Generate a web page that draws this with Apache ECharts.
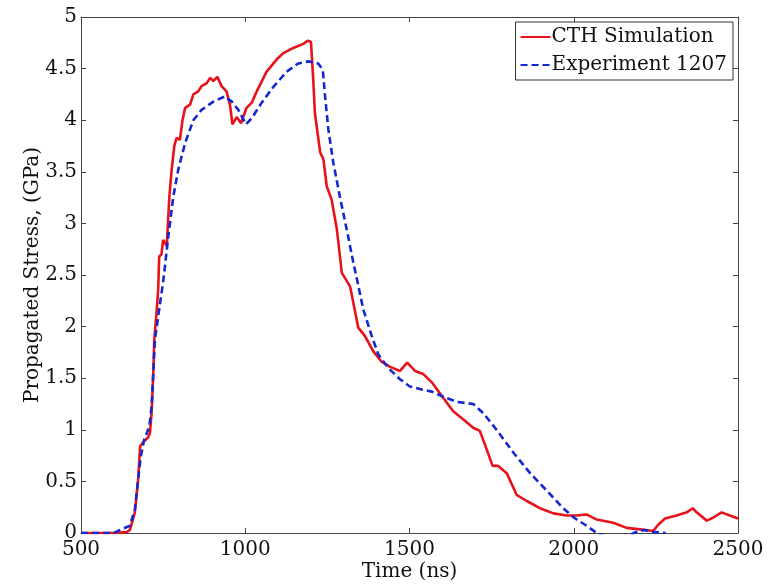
<!DOCTYPE html>
<html><head><meta charset="utf-8">
<script src="https://cdn.jsdelivr.net/npm/echarts@6/dist/echarts.min.js"></script>
<style>html,body{margin:0;padding:0;background:#fff}#c{width:772px;height:584px}</style>
</head><body><div id="c"></div>
<script>
const xTicks = [500, 1000, 1500, 2000, 2500];
const yTicks = [0, 0.5, 1, 1.5, 2, 2.5, 3, 3.5, 4, 4.5, 5];
const seriesNames = ['CTH Simulation', 'Experiment 1207'];

const cthTime = [500,600,640,649,664,674,680,690,705,710,715,720,723,730,735,738,745,750,761,769,776,784,791,801,809,817,832,842,857,867,883,893,903,915,928,943,954,961,974,987,1004,1020,1035,1065,1096,1116,1146,1177,1190,1200,1207,1212,1228,1238,1248,1263,1279,1294,1319,1329,1344,1364,1390,1415,1441,1471,1493,1517,1542,1568,1598,1633,1664,1694,1714,1735,1753,1770,1796,1826,1857,1897,1938,1978,2009,2039,2070,2120,2161,2202,2242,2257,2278,2313,2344,2362,2374,2405,2425,2450,2475,2500];
const cthStress = [0,0,0.01,0.03,0.2,0.52,0.84,0.88,0.93,0.97,1.17,1.55,1.87,2.14,2.36,2.68,2.70,2.84,2.78,3.26,3.52,3.75,3.83,3.81,4.0,4.12,4.15,4.25,4.28,4.33,4.36,4.41,4.38,4.42,4.33,4.28,4.14,3.96,4.03,3.97,4.12,4.17,4.28,4.47,4.59,4.65,4.70,4.74,4.77,4.76,4.39,4.07,3.69,3.62,3.36,3.23,2.94,2.52,2.39,2.23,1.99,1.91,1.76,1.66,1.61,1.57,1.65,1.57,1.54,1.46,1.33,1.18,1.10,1.02,0.99,0.81,0.65,0.65,0.58,0.37,0.31,0.24,0.19,0.17,0.17,0.18,0.13,0.10,0.05,0.035,0.02,0.08,0.14,0.17,0.20,0.24,0.20,0.12,0.15,0.20,0.17,0.14];

const expTime = [500,600,619,649,664,674,682,692,708,715,720,725,735,750,766,781,796,817,842,867,903,938,959,979,1002,1020,1050,1085,1126,1161,1192,1222,1236,1243,1253,1268,1288,1309,1329,1344,1359,1385,1405,1435,1471,1501,1537,1568,1603,1644,1694,1725,1765,1816,1867,1918,1968,2000,2039,2070,2110,2170,2190,2215,2245,2280];
const expStress = [0,0,0.03,0.07,0.23,0.52,0.74,0.9,1.03,1.23,1.55,1.87,2.1,2.43,2.88,3.26,3.52,3.78,4.0,4.10,4.18,4.23,4.18,4.10,3.96,4.02,4.17,4.32,4.47,4.55,4.57,4.55,4.49,4.23,3.91,3.59,3.26,2.94,2.62,2.40,2.17,1.91,1.73,1.60,1.49,1.42,1.39,1.37,1.32,1.27,1.25,1.16,1.0,0.78,0.58,0.41,0.24,0.15,0.07,0.0,-0.05,-0.02,0.01,0.03,0.01,0];

const zip = (a, b) => a.map((t, i) => [t, b[i]]);
const FONT = 'DejaVu Serif';
const axisCol = '#444';
const plain = v => String(v);

const chart = echarts.init(document.getElementById('c'), null, {renderer: 'canvas'});
chart.setOption({
  animation: false,
  backgroundColor: '#fff',
  grid: {left: 81, right: 34, top: 17, bottom: 51, containLabel: false, outerBoundsMode: 'none'},
  legend: {
    orient: 'vertical', right: 39, top: 22,
    backgroundColor: '#fff', borderColor: '#333', borderWidth: 1,
    padding: [5, 6, 5, 4], itemGap: 8, itemWidth: 30, itemHeight: 14,
    itemStyle: {color: 'rgba(0,0,0,0)', borderWidth: 0, opacity: 0},
    textStyle: {fontFamily: FONT, fontSize: 20, color: '#111', padding: [0, 0, 0, -4]},
    data: seriesNames
  },
  xAxis: [{
    type: 'value', min: xTicks[0], max: xTicks[xTicks.length - 1], interval: 500,
    position: 'bottom',
    axisLine: {show: true, onZero: false, lineStyle: {color: axisCol, width: 1}},
    axisTick: {show: true, inside: true, length: 5, lineStyle: {color: axisCol}},
    axisLabel: {fontFamily: FONT, fontSize: 20, color: '#111', margin: 7, formatter: plain},
    splitLine: {show: false},
    name: 'Time (ns)', nameLocation: 'middle', nameGap: 29, nameMoveOverlap: false,
    nameTextStyle: {fontFamily: FONT, fontSize: 20, color: '#111'}
  }, {
    type: 'value', min: xTicks[0], max: xTicks[xTicks.length - 1], interval: 500,
    position: 'top',
    axisLine: {show: true, onZero: false, lineStyle: {color: axisCol, width: 1}},
    axisTick: {show: true, inside: true, length: 5, lineStyle: {color: axisCol}},
    axisLabel: {show: false}, splitLine: {show: false}
  }],
  yAxis: [{
    type: 'value', min: yTicks[0], max: yTicks[yTicks.length - 1], interval: 0.5,
    position: 'left',
    axisLine: {show: true, onZero: false, lineStyle: {color: axisCol, width: 1}},
    axisTick: {show: true, inside: true, length: 5, lineStyle: {color: axisCol}},
    axisLabel: {fontFamily: FONT, fontSize: 20, color: '#111', margin: 4, formatter: plain},
    splitLine: {show: false},
    name: 'Propagated Stress, (GPa)', nameLocation: 'middle', nameGap: 38, nameRotate: 90, nameMoveOverlap: false,
    nameTextStyle: {fontFamily: FONT, fontSize: 20, color: '#111'}
  }, {
    type: 'value', min: yTicks[0], max: yTicks[yTicks.length - 1], interval: 0.5,
    position: 'right',
    axisLine: {show: true, onZero: false, lineStyle: {color: axisCol, width: 1}},
    axisTick: {show: true, inside: true, length: 5, lineStyle: {color: axisCol}},
    axisLabel: {show: false}, splitLine: {show: false}
  }],
  series: [{
    name: seriesNames[0], type: 'line', data: zip(cthTime, cthStress),
    showSymbol: false, symbol: 'none', clip: true,
    lineStyle: {color: '#e8121a', width: 2.6}, itemStyle: {color: '#e8121a'}, z: 3
  }, {
    name: seriesNames[1], type: 'line', data: zip(expTime, expStress),
    showSymbol: false, symbol: 'none', clip: true,
    lineStyle: {color: '#1428d2', width: 2.6, type: [7, 4]}, itemStyle: {color: '#1428d2'}, z: 4
  }]
});
</script></body></html>
